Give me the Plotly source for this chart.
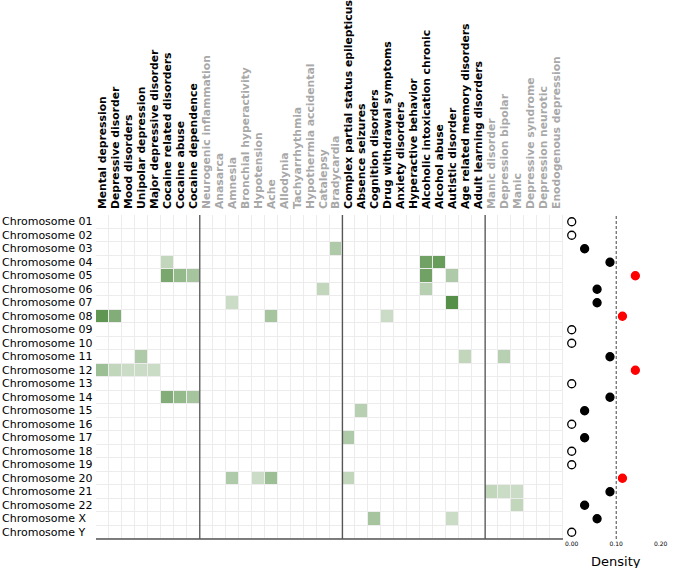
import plotly.graph_objects as go
import numpy as np

# ---------------- data ----------------
diseases = [
    "Mental depression", "Depressive disorder", "Mood disorders", "Unipolar depression",
    "Major depressive disorder", "Cocaine related disorders", "Cocaine abuse", "Cocaine dependence",
    "Neurogenic inflammation", "Anasarca", "Amnesia", "Bronchial hyperactivity", "Hypotension",
    "Ache", "Allodynia", "Tachyarrhythmia", "Hypothermia accidental", "Catalepsy", "Bradycardia",
    "Complex partial status epilepticus", "Absence seizures", "Cognition disorders",
    "Drug withdrawal symptoms", "Anxiety disorders", "Hyperactive behavior",
    "Alcoholic intoxication chronic", "Alcohol abuse", "Autistic disorder",
    "Age related memory disorders", "Adult learning disorders",
    "Manic disorder", "Depression bipolar", "Manic", "Depressive syndrome",
    "Depression neurotic", "Enodogenous depression",
]
# group index of each disease column (alternating black / grey label groups)
disease_group = [0] * 8 + [1] * 11 + [2] * 11 + [3] * 6

chromosomes = ["Chromosome %02d" % i for i in range(1, 23)] + ["Chromosome X", "Chromosome Y"]

cell_chrom = [
    "Chromosome 03",
    "Chromosome 04", "Chromosome 04", "Chromosome 04",
    "Chromosome 05", "Chromosome 05", "Chromosome 05", "Chromosome 05", "Chromosome 05",
    "Chromosome 06", "Chromosome 06",
    "Chromosome 07", "Chromosome 07",
    "Chromosome 08", "Chromosome 08", "Chromosome 08", "Chromosome 08",
    "Chromosome 11", "Chromosome 11", "Chromosome 11",
    "Chromosome 12", "Chromosome 12", "Chromosome 12", "Chromosome 12", "Chromosome 12",
    "Chromosome 14", "Chromosome 14", "Chromosome 14",
    "Chromosome 15",
    "Chromosome 17",
    "Chromosome 20", "Chromosome 20", "Chromosome 20", "Chromosome 20",
    "Chromosome 21", "Chromosome 21", "Chromosome 21",
    "Chromosome 22",
    "Chromosome X", "Chromosome X",
]
cell_disease = [
    "Bradycardia",
    "Cocaine related disorders", "Alcoholic intoxication chronic", "Alcohol abuse",
    "Cocaine related disorders", "Cocaine abuse", "Cocaine dependence",
    "Alcoholic intoxication chronic", "Autistic disorder",
    "Catalepsy", "Alcoholic intoxication chronic",
    "Amnesia", "Autistic disorder",
    "Mental depression", "Depressive disorder", "Ache", "Drug withdrawal symptoms",
    "Unipolar depression", "Age related memory disorders", "Depression bipolar",
    "Mental depression", "Depressive disorder", "Mood disorders", "Unipolar depression",
    "Major depressive disorder",
    "Cocaine related disorders", "Cocaine abuse", "Cocaine dependence",
    "Absence seizures",
    "Complex partial status epilepticus",
    "Amnesia", "Hypotension", "Ache", "Complex partial status epilepticus",
    "Manic disorder", "Depression bipolar", "Manic",
    "Manic",
    "Cognition disorders", "Autistic disorder",
]
cell_value = [
    0.45,
    0.35, 0.80, 0.85,
    0.75, 0.60, 0.50, 0.80, 0.45,
    0.35, 0.40,
    0.30, 0.95,
    0.90, 0.70, 0.50, 0.30,
    0.45, 0.35, 0.40,
    0.55, 0.35, 0.30, 0.30, 0.30,
    0.70, 0.60, 0.50,
    0.40,
    0.45,
    0.45, 0.30, 0.55, 0.35,
    0.35, 0.30, 0.30,
    0.35,
    0.50, 0.30,
]

density = [0.0, 0.0, 0.029, 0.086, 0.143, 0.057, 0.057, 0.114, 0.0, 0.0, 0.086, 0.143,
           0.0, 0.086, 0.029, 0.0, 0.029, 0.0, 0.0, 0.114, 0.086, 0.029, 0.057, 0.0]
density_threshold = 0.10
density_ticks = [0.0, 0.1, 0.2]

# ---------------- build ----------------
z = np.zeros((len(chromosomes), len(diseases)))
for c, d, v in zip(cell_chrom, cell_disease, cell_value):
    z[chromosomes.index(c), diseases.index(d)] = v

label_colors = ["#000000", "#a8a8a8", "#000000", "#a8a8a8"]
ticktext = ['<span style="color:%s"><b>%s</b></span>' % (label_colors[g], d)
            for d, g in zip(diseases, disease_group)]

W, H = 685, 568
ML, MR, MT, MB = 96, 0, 215, 29
heat_right_px = 563
plot_w = W - ML - MR
heat_dom = (heat_right_px - ML) / plot_w

fig = go.Figure()
fig.add_trace(go.Heatmap(
    z=z, x=diseases, y=chromosomes,
    colorscale=[[0, "#ffffff"], [1, "#4d8a3e"]], zmin=0, zmax=1,
    xgap=1, ygap=1, showscale=False, hoverongaps=False,
))

m_fill, m_line = [], []
for v in density:
    if v == 0:
        m_fill.append("#ffffff"); m_line.append("#000000")
    elif v > density_threshold:
        m_fill.append("#ff0000"); m_line.append("#ff0000")
    else:
        m_fill.append("#000000"); m_line.append("#000000")

fig.add_trace(go.Scatter(
    x=density, y=chromosomes, xaxis="x2", yaxis="y", mode="markers",
    marker=dict(size=8, color=m_fill, line=dict(color=m_line, width=1.3)),
    showlegend=False, cliponaxis=False,
))

shapes = [
    # light grid background under heatmap
    dict(type="rect", xref="x domain", yref="y domain", x0=0, x1=1, y0=0, y1=1,
         fillcolor="#ececec", line=dict(width=0), layer="below"),
    # bottom axis line of heatmap
    dict(type="line", xref="x domain", yref="y domain", x0=0, x1=1, y0=0, y1=0,
         line=dict(color="#555555", width=1.5)),
    # threshold line in density panel
    dict(type="line", xref="x2", yref="y domain", x0=density_threshold, x1=density_threshold,
         y0=0, y1=1, line=dict(color="#444444", width=1, dash="3px,2px")),
]
# group separators
bounds = [i for i in range(1, len(disease_group)) if disease_group[i] != disease_group[i - 1]]
for b in bounds:
    shapes.append(dict(type="line", xref="x", yref="y domain", x0=b - 0.5, x1=b - 0.5,
                       y0=0, y1=1, line=dict(color="#555555", width=1.3)))

font = "DejaVu Sans"

# left-aligned row labels (placed on the y scale)
annotations = [dict(text=c, xref="paper", yref="y", x=-ML / plot_w, y=c, xanchor="left",
                    yanchor="middle", showarrow=False,
                    font=dict(size=11, family=font, color="#000000"))
               for c in chromosomes]
annotations.append(dict(text="Density", xref="x2", yref="paper", x=0.1, y=0,
                        yanchor="middle", yshift=-22, showarrow=False,
                        font=dict(size=13, family=font, color="#000000")))

fig.update_layout(
    width=W, height=H, autosize=False,
    margin=dict(l=ML, r=MR, t=MT, b=MB, pad=0),
    paper_bgcolor="white", plot_bgcolor="white",
    font=dict(family=font, color="#000000"),
    shapes=shapes,
    annotations=annotations,
    xaxis=dict(domain=[0, heat_dom], side="top", tickangle=-90, tickmode="array",
               tickvals=diseases, ticktext=ticktext,
               tickfont=dict(size=10.8, family=font, color="#000000"),
               ticklabelstandoff=5,
               range=[-0.5, len(diseases) - 0.5],
               showgrid=False, zeroline=False, showline=False, ticks="", automargin=False,
               fixedrange=True),
    yaxis=dict(domain=[0, 1], range=[len(chromosomes) - 0.5, -0.5], tickmode="array",
               tickvals=chromosomes, showticklabels=False, showgrid=False, zeroline=False,
               showline=False, ticks="", automargin=False, fixedrange=True),
    xaxis2=dict(domain=[heat_dom, 1], anchor="y", range=[-0.0196, 0.2546],
                tickvals=density_ticks, ticktext=["%.2f" % t for t in density_ticks],
                tickfont=dict(size=6, family=font, color="#000000"), showgrid=False,
                zeroline=False, showline=False, ticks="", automargin=False, fixedrange=True),
)

fig.write_html("out.html", config={"displayModeBar": False, "staticPlot": True},
               post_script="document.body.style.margin='0px';document.body.style.overflow='hidden';")
